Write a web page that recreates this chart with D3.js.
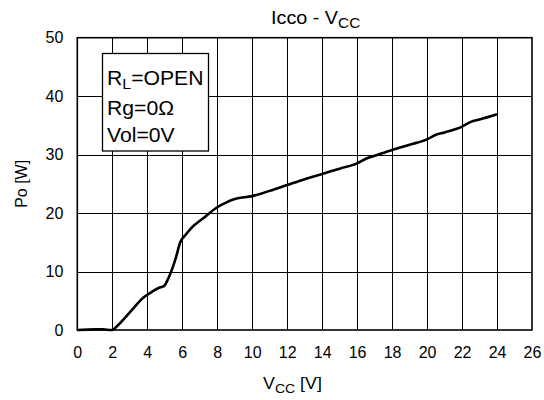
<!DOCTYPE html>
<html><head><meta charset="utf-8">
<script src="https://cdn.jsdelivr.net/npm/d3@7"></script>
<style>body{margin:0;background:#fff}svg{display:block}text{font-family:"Liberation Sans",Arial,sans-serif;fill:#000}</style>
</head><body>
<script>
const vcc = [0, 1.0, 1.5, 1.9, 2.0, 2.25, 3.0, 3.8, 4.3, 4.75, 4.95, 5.2, 5.6, 5.9, 6.2, 6.5, 7.2, 8.0, 8.5, 9.0, 10.0, 11.0, 12.0, 13.0, 14.0, 15.0, 16.0, 16.5, 17.0, 18.0, 19.0, 20.0, 20.5, 21.0, 22.0, 22.5, 23.0, 24.0];
const po  = [0, 0.1, 0.1, 0, 0, 0.6, 3.0, 5.6, 6.6, 7.3, 7.5, 8.8, 12.0, 15.1, 16.3, 17.4, 19.1, 21.0, 21.8, 22.4, 22.9, 23.8, 24.8, 25.8, 26.7, 27.6, 28.5, 29.3, 29.8, 30.8, 31.7, 32.6, 33.4, 33.8, 34.8, 35.6, 36.0, 36.9];
const xTicks = [0,2,4,6,8,10,12,14,16,18,20,22,24,26];
const yTicks = [0,10,20,30,40,50];
const legendLines = ["R|L|=OPEN", "Rg=0Ω", "Vol=0V"];

const W = 544, H = 400;
const L = 77.3, R = 532, T = 37.7, B = 330;
const svg = d3.select("body").append("svg").attr("width", W).attr("height", H);
const x = d3.scaleLinear().domain([0, 26]).range([L, R]);
const y = d3.scaleLinear().domain([0, 50]).range([B, T]);

// grid
const g = svg.append("g");
g.selectAll("line.v").data(xTicks.slice(1, -1)).join("line")
  .attr("x1", d => Math.round(x(d)) + 0.5).attr("x2", d => Math.round(x(d)) + 0.5)
  .attr("y1", T).attr("y2", B).attr("stroke", "#000").attr("stroke-width", 1);
g.selectAll("line.h").data(yTicks.slice(1, -1)).join("line")
  .attr("y1", d => Math.round(y(d)) + 0.5).attr("y2", d => Math.round(y(d)) + 0.5)
  .attr("x1", L).attr("x2", R).attr("stroke", "#000").attr("stroke-width", 1);

// axes (labels only)
const xAxis = d3.axisBottom(x).tickValues(xTicks).tickSize(0).tickPadding(17);
const xa = svg.append("g").attr("transform", `translate(0,${B})`).call(xAxis);
xa.select(".domain").remove();
xa.selectAll("text").style("font-size", "16px").attr("font-family", "Liberation Sans, Arial, sans-serif");
const yAxis = d3.axisLeft(y).tickValues(yTicks).tickSize(0).tickPadding(14);
const ya = svg.append("g").attr("transform", `translate(${L},0)`).call(yAxis);
ya.select(".domain").remove();
ya.selectAll("text").style("font-size", "16px").attr("font-family", "Liberation Sans, Arial, sans-serif");

// legend box
const lg = svg.append("g");
lg.append("rect").attr("x", 102.5).attr("y", 53.5).attr("width", 106).attr("height", 97.5)
  .attr("fill", "#fff").attr("stroke", "#000").attr("stroke-width", 1.3);
const lbase = [85, 115, 142];
legendLines.forEach((s, i) => {
  const t = lg.append("text").attr("transform", `translate(107,${lbase[i]}) scale(1.06,1)`).style("font-size", "20px");
  const parts = s.split("|");
  if (parts.length === 3) {
    t.append("tspan").text(parts[0]);
    t.append("tspan").text(parts[1]).attr("dy", 4).style("font-size", "15px");
    t.append("tspan").text(parts[2]).attr("dy", -4);
  } else t.text(s);
});

// curve
const pts = vcc.map((v, i) => [v, po[i]]);
svg.append("path").datum(pts)
  .attr("d", d3.line().x(d => x(d[0])).y(d => y(d[1])).curve(d3.curveMonotoneX))
  .attr("fill", "none").attr("stroke", "#000").attr("stroke-width", 2.6).attr("stroke-linejoin", "round");

// frame
svg.append("rect").attr("x", L).attr("y", T).attr("width", R - L).attr("height", B - T)
  .attr("fill", "none").attr("stroke", "#000").attr("stroke-width", 1.6);

// title
const tt = svg.append("text").attr("transform", "translate(271,24) scale(1.1,1)").style("font-size", "18px");
tt.append("tspan").text("Icco - V");
tt.append("tspan").text("CC").attr("dy", 4).style("font-size", "14px");

// x title
const xt = svg.append("text").attr("transform", "translate(263,389) scale(1.08,1)").style("font-size", "16.5px");
xt.append("tspan").text("V");
xt.append("tspan").text("CC").attr("dy", 4).style("font-size", "13px");
xt.append("tspan").text(" [V]").attr("dy", -4);

// y title
svg.append("text").attr("transform", `translate(27,${(T + B) / 2}) rotate(-90)`)
  .attr("text-anchor", "middle").style("font-size", "16px").text("Po [W]");
</script>
</body></html>
